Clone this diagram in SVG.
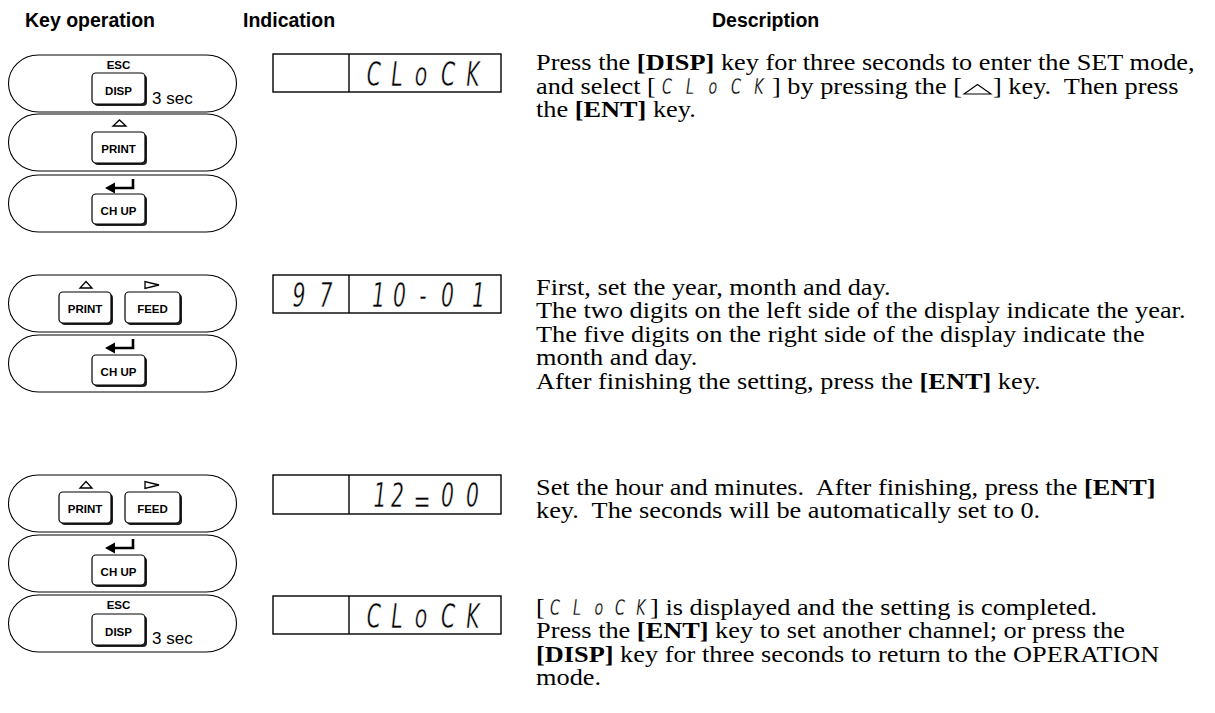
<svg xmlns="http://www.w3.org/2000/svg" width="1215" height="713" viewBox="0 0 1215 713">
<style>
.hdr{font-family:"Liberation Sans",Arial,sans-serif;font-weight:bold;font-size:19.5px;fill:#000}
.desc{font-family:"Liberation Serif","Times New Roman",serif;font-size:23.5px;fill:#000}
.b{font-weight:bold}
.pill{fill:#fff;stroke:#000;stroke-width:1.1}
.key{fill:#fff;stroke:#000;stroke-width:1.2}
.shadow{fill:#222}
.kl{font-family:"Liberation Sans",Arial,sans-serif;font-weight:bold;font-size:11.5px;text-anchor:middle;fill:#000}
.sec{font-family:"Liberation Sans",Arial,sans-serif;font-size:17px;fill:#000}
.icon{fill:#fff;stroke:#000;stroke-width:1.3}
.arrow{fill:none;stroke:#000;stroke-width:2.6}
.box{fill:#fff;stroke:#000;stroke-width:1.4}
.seg{font-family:"DejaVu Sans",sans-serif;font-style:oblique;font-size:34px;text-anchor:middle;fill:#000;stroke:#fff;stroke-width:0.5}
.segs{font-family:"DejaVu Sans",sans-serif;font-style:oblique;font-size:22px;text-anchor:middle;fill:#000;stroke:#fff;stroke-width:0.3}
</style>
<rect width="1215" height="713" fill="#fff"/>
<g id="headers">
<text class="hdr" x="25" y="27">Key operation</text>
<text class="hdr" x="243" y="27">Indication</text>
<text class="hdr" x="712" y="27">Description</text>
</g>
<g id="connectors"></g>

<g id="keys-1">
<rect class="pill" x="8.5" y="55" width="228" height="57" rx="30" ry="28.5"/>
<text class="kl" x="118.5" y="68.5">ESC</text>
<rect class="shadow" x="94" y="75" width="53" height="31" rx="4"/>
<rect class="key" x="92" y="73" width="53" height="31" rx="4"/>
<text class="kl" x="118.5" y="94.5">DISP</text>
<text class="sec" x="152" y="104">3 sec</text>

<rect class="pill" x="8.5" y="114" width="228" height="57" rx="30" ry="28.5"/>
<polygon class="icon" points="113,126 126,126 119.5,120"/>
<rect class="shadow" x="94" y="134" width="53" height="31" rx="4"/>
<rect class="key" x="92" y="132" width="53" height="31" rx="4"/>
<text class="kl" x="118.5" y="153">PRINT</text>

<rect class="pill" x="8.5" y="175" width="228" height="57" rx="30" ry="28.5"/>
<path class="arrow" d="M133,179 V188 H114"/>
<polygon points="105,188 115,182.5 115,193.5" fill="#000"/>
<rect class="shadow" x="94" y="196" width="53" height="30" rx="4"/>
<rect class="key" x="92" y="194" width="53" height="30" rx="4"/>
<text class="kl" x="118.5" y="215">CH UP</text>
</g>

<g id="keys-2">
<rect class="pill" x="8.5" y="275" width="228" height="57" rx="30" ry="28.5"/>
<polygon class="icon" points="80,288 92,288 86,281.5"/>
<polygon class="icon" points="145,281.5 145,288.5 159,285"/>
<rect class="shadow" x="61" y="294" width="52" height="31" rx="4"/>
<rect class="key" x="59" y="292" width="52" height="31" rx="4"/>
<text class="kl" x="85" y="313">PRINT</text>
<rect class="shadow" x="127" y="294" width="55" height="31" rx="4"/>
<rect class="key" x="125" y="292" width="55" height="31" rx="4"/>
<text class="kl" x="152.5" y="313">FEED</text>

<rect class="pill" x="8.5" y="335" width="228" height="57" rx="30" ry="28.5"/>
<path class="arrow" d="M133,339 V348 H114"/>
<polygon points="105,348 115,342.5 115,353.5" fill="#000"/>
<rect class="shadow" x="94" y="357" width="53" height="30" rx="4"/>
<rect class="key" x="92" y="355" width="53" height="30" rx="4"/>
<text class="kl" x="118.5" y="376">CH UP</text>
</g>

<g id="keys-3">
<rect class="pill" x="8.5" y="475" width="228" height="57" rx="30" ry="28.5"/>
<polygon class="icon" points="80,488 92,488 86,481.5"/>
<polygon class="icon" points="145,481.5 145,488.5 159,485"/>
<rect class="shadow" x="61" y="494" width="52" height="31" rx="4"/>
<rect class="key" x="59" y="492" width="52" height="31" rx="4"/>
<text class="kl" x="85" y="513">PRINT</text>
<rect class="shadow" x="127" y="494" width="55" height="31" rx="4"/>
<rect class="key" x="125" y="492" width="55" height="31" rx="4"/>
<text class="kl" x="152.5" y="513">FEED</text>

<rect class="pill" x="8.5" y="535" width="228" height="57" rx="30" ry="28.5"/>
<path class="arrow" d="M133,539 V548 H114"/>
<polygon points="105,548 115,542.5 115,553.5" fill="#000"/>
<rect class="shadow" x="94" y="557" width="53" height="30" rx="4"/>
<rect class="key" x="92" y="555" width="53" height="30" rx="4"/>
<text class="kl" x="118.5" y="576">CH UP</text>
</g>

<g id="keys-4">
<rect class="pill" x="8.5" y="595" width="228" height="57" rx="30" ry="28.5"/>
<text class="kl" x="118.5" y="609">ESC</text>
<rect class="shadow" x="94" y="616" width="53" height="31" rx="4"/>
<rect class="key" x="92" y="614" width="53" height="31" rx="4"/>
<text class="kl" x="118.5" y="635.5">DISP</text>
<text class="sec" x="152" y="644">3 sec</text>
</g>

<g id="display-1">
<rect class="box" x="273" y="54" width="228" height="38"/>
<line x1="349" y1="54" x2="349" y2="92" stroke="#000" stroke-width="1.4"/>
<text class="seg" transform="scale(0.6 1)" x="623.3 661.7 701.7 746.7 788.3" y="86">CLoCK</text>
</g>
<g id="display-2">
<rect class="box" x="273" y="275" width="228" height="38"/>
<line x1="349" y1="275" x2="349" y2="313" stroke="#000" stroke-width="1.4"/>
<text class="seg" transform="scale(0.6 1)" x="498.3 543.3" y="307">97</text>
<text class="seg" transform="scale(0.6 1)" x="630.8 665.8 705 745.8 797.5" y="307">10-01</text>
</g>
<g id="display-3">
<rect class="box" x="273" y="475" width="228" height="39"/>
<line x1="349" y1="475" x2="349" y2="514" stroke="#000" stroke-width="1.4"/>
<text class="seg" transform="scale(0.6 1)" x="633.3 662.5 703.3 745.8 787.5" y="507 507 513 507 507">12=00</text>
</g>
<g id="display-4">
<rect class="box" x="273" y="596" width="228" height="38"/>
<line x1="349" y1="596" x2="349" y2="634" stroke="#000" stroke-width="1.4"/>
<text class="seg" transform="scale(0.6 1)" x="623.3 661.7 701.7 746.7 788.3" y="628">CLoCK</text>
</g>

<g id="desc-1">
<g transform="scale(1.12 1)">
<text class="desc" x="478.6" y="70.5">Press the <tspan class="b">[DISP]</tspan> key for three seconds to enter the SET mode,</text>
<text class="desc" x="478.6" y="94">and select [</text>
<text class="desc" x="689.3" y="94">] by pressing the [</text>
<text class="desc" x="886.6" y="94">] key.&#160; Then press</text>
<text class="desc" x="478.6" y="117.5">the <tspan class="b">[ENT]</tspan> key.</text>
</g>
<text class="segs" transform="scale(0.65 1)" x="1026.2 1061.5 1096.9 1132.3 1167.7" y="94">CLoCK</text>
<polygon points="964,94 991,94 977.5,84.5" fill="none" stroke="#000" stroke-width="1.1"/>
</g>
<g id="desc-2">
<g transform="scale(1.12 1)">
<text class="desc" x="478.6" y="295">First, set the year, month and day.</text>
<text class="desc" x="478.6" y="318.5">The two digits on the left side of the display indicate the year.</text>
<text class="desc" x="478.6" y="342">The five digits on the right side of the display indicate the</text>
<text class="desc" x="478.6" y="365.5">month and day.</text>
<text class="desc" x="478.6" y="389">After finishing the setting, press the <tspan class="b">[ENT]</tspan> key.</text>
</g>
</g>
<g id="desc-3">
<g transform="scale(1.12 1)">
<text class="desc" x="478.6" y="495">Set the hour and minutes.&#160; After finishing, press the <tspan class="b">[ENT]</tspan></text>
<text class="desc" x="478.6" y="518.5">key.&#160; The seconds will be automatically set to 0.</text>
</g>
</g>
<g id="desc-4">
<g transform="scale(1.12 1)">
<text class="desc" x="478.6" y="615">[</text>
<text class="desc" x="580.4" y="615">] is displayed and the setting is completed.</text>
<text class="desc" x="478.6" y="638.5">Press the <tspan class="b">[ENT]</tspan> key to set another channel; or press the</text>
<text class="desc" x="478.6" y="662"><tspan class="b">[DISP]</tspan> key for three seconds to return to the OPERATION</text>
<text class="desc" x="478.6" y="685.5">mode.</text>
</g>
<text class="segs" transform="scale(0.65 1)" x="853.8 887.7 921.5 953.8 986.2" y="615">CLoCK</text>
</g>
</svg>
